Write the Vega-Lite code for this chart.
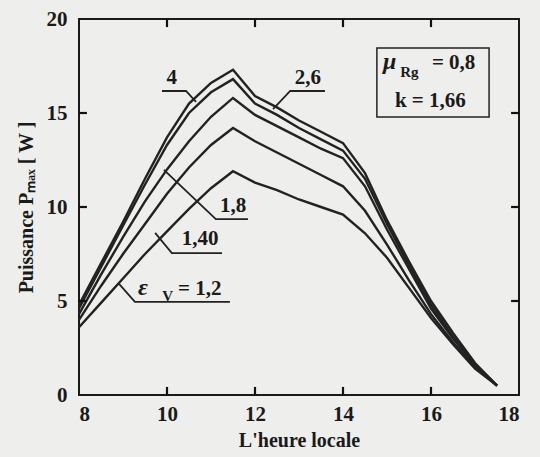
{
  "$schema": "https://vega.github.io/schema/vega-lite/v6.json",
  "width": 440,
  "height": 376,
  "autosize": {"type": "none"},
  "padding": {"left": 79, "top": 19, "right": 21, "bottom": 62},
  "background": "#eeeeec",
  "config": {
    "view": {"stroke": "#1a1a1a", "strokeWidth": 2},
    "font": "Liberation Serif",
    "axis": {"grid": false, "labelFont": "Liberation Serif", "labelFontWeight": "bold", "labelFontSize": 21, "labelColor": "#1a1a1a", "titleFont": "Liberation Serif", "titleFontWeight": "bold", "titleFontSize": 20, "titleColor": "#1a1a1a"}
  },
  "datasets": {
    "curves": [
      {"eps": "4", "h": 8, "p": 4.8}, {"eps": "4", "h": 8.5, "p": 7.0}, {"eps": "4", "h": 9, "p": 9.2}, {"eps": "4", "h": 9.5, "p": 11.5}, {"eps": "4", "h": 10, "p": 13.7}, {"eps": "4", "h": 10.5, "p": 15.5}, {"eps": "4", "h": 11, "p": 16.6}, {"eps": "4", "h": 11.5, "p": 17.3}, {"eps": "4", "h": 12, "p": 15.9}, {"eps": "4", "h": 12.5, "p": 15.3}, {"eps": "4", "h": 13, "p": 14.6}, {"eps": "4", "h": 13.5, "p": 14.0}, {"eps": "4", "h": 14, "p": 13.4}, {"eps": "4", "h": 14.5, "p": 11.8}, {"eps": "4", "h": 15, "p": 9.3}, {"eps": "4", "h": 15.5, "p": 7.1}, {"eps": "4", "h": 16, "p": 5.0}, {"eps": "4", "h": 16.5, "p": 3.3}, {"eps": "4", "h": 17, "p": 1.7}, {"eps": "4", "h": 17.5, "p": 0.5},
      {"eps": "2,6", "h": 8, "p": 4.6}, {"eps": "2,6", "h": 8.5, "p": 6.8}, {"eps": "2,6", "h": 9, "p": 9.0}, {"eps": "2,6", "h": 9.5, "p": 11.2}, {"eps": "2,6", "h": 10, "p": 13.3}, {"eps": "2,6", "h": 10.5, "p": 15.0}, {"eps": "2,6", "h": 11, "p": 16.1}, {"eps": "2,6", "h": 11.5, "p": 16.8}, {"eps": "2,6", "h": 12, "p": 15.5}, {"eps": "2,6", "h": 12.5, "p": 14.9}, {"eps": "2,6", "h": 13, "p": 14.2}, {"eps": "2,6", "h": 13.5, "p": 13.6}, {"eps": "2,6", "h": 14, "p": 13.0}, {"eps": "2,6", "h": 14.5, "p": 11.5}, {"eps": "2,6", "h": 15, "p": 9.1}, {"eps": "2,6", "h": 15.5, "p": 6.9}, {"eps": "2,6", "h": 16, "p": 4.8}, {"eps": "2,6", "h": 16.5, "p": 3.1}, {"eps": "2,6", "h": 17, "p": 1.6}, {"eps": "2,6", "h": 17.5, "p": 0.5},
      {"eps": "1,8", "h": 8, "p": 4.3}, {"eps": "1,8", "h": 8.5, "p": 6.4}, {"eps": "1,8", "h": 9, "p": 8.4}, {"eps": "1,8", "h": 9.5, "p": 10.3}, {"eps": "1,8", "h": 10, "p": 12.0}, {"eps": "1,8", "h": 10.5, "p": 13.5}, {"eps": "1,8", "h": 11, "p": 14.8}, {"eps": "1,8", "h": 11.5, "p": 15.8}, {"eps": "1,8", "h": 12, "p": 14.9}, {"eps": "1,8", "h": 12.5, "p": 14.3}, {"eps": "1,8", "h": 13, "p": 13.7}, {"eps": "1,8", "h": 13.5, "p": 13.1}, {"eps": "1,8", "h": 14, "p": 12.6}, {"eps": "1,8", "h": 14.5, "p": 11.1}, {"eps": "1,8", "h": 15, "p": 8.8}, {"eps": "1,8", "h": 15.5, "p": 6.7}, {"eps": "1,8", "h": 16, "p": 4.6}, {"eps": "1,8", "h": 16.5, "p": 3.0}, {"eps": "1,8", "h": 17, "p": 1.6}, {"eps": "1,8", "h": 17.5, "p": 0.5},
      {"eps": "1,40", "h": 8, "p": 4.0}, {"eps": "1,40", "h": 8.5, "p": 5.8}, {"eps": "1,40", "h": 9, "p": 7.5}, {"eps": "1,40", "h": 9.5, "p": 9.1}, {"eps": "1,40", "h": 10, "p": 10.7}, {"eps": "1,40", "h": 10.5, "p": 12.1}, {"eps": "1,40", "h": 11, "p": 13.3}, {"eps": "1,40", "h": 11.5, "p": 14.2}, {"eps": "1,40", "h": 12, "p": 13.5}, {"eps": "1,40", "h": 12.5, "p": 12.9}, {"eps": "1,40", "h": 13, "p": 12.3}, {"eps": "1,40", "h": 13.5, "p": 11.7}, {"eps": "1,40", "h": 14, "p": 11.1}, {"eps": "1,40", "h": 14.5, "p": 9.8}, {"eps": "1,40", "h": 15, "p": 8.0}, {"eps": "1,40", "h": 15.5, "p": 6.1}, {"eps": "1,40", "h": 16, "p": 4.3}, {"eps": "1,40", "h": 16.5, "p": 2.8}, {"eps": "1,40", "h": 17, "p": 1.5}, {"eps": "1,40", "h": 17.5, "p": 0.5},
      {"eps": "1,2", "h": 8, "p": 3.6}, {"eps": "1,2", "h": 8.5, "p": 4.9}, {"eps": "1,2", "h": 9, "p": 6.2}, {"eps": "1,2", "h": 9.5, "p": 7.5}, {"eps": "1,2", "h": 10, "p": 8.7}, {"eps": "1,2", "h": 10.5, "p": 9.9}, {"eps": "1,2", "h": 11, "p": 11.0}, {"eps": "1,2", "h": 11.5, "p": 11.9}, {"eps": "1,2", "h": 12, "p": 11.3}, {"eps": "1,2", "h": 12.5, "p": 10.9}, {"eps": "1,2", "h": 13, "p": 10.4}, {"eps": "1,2", "h": 13.5, "p": 10.0}, {"eps": "1,2", "h": 14, "p": 9.6}, {"eps": "1,2", "h": 14.5, "p": 8.6}, {"eps": "1,2", "h": 15, "p": 7.3}, {"eps": "1,2", "h": 15.5, "p": 5.7}, {"eps": "1,2", "h": 16, "p": 4.1}, {"eps": "1,2", "h": 16.5, "p": 2.7}, {"eps": "1,2", "h": 17, "p": 1.4}, {"eps": "1,2", "h": 17.5, "p": 0.5}
    ],
    "leaders": [
      {"id": "4", "o": 1, "h": 9.886, "p": 16.17}, {"id": "4", "o": 2, "h": 10.432, "p": 16.17}, {"id": "4", "o": 3, "h": 10.66, "p": 15.59},
      {"id": "2,6", "o": 1, "h": 13.59, "p": 16.17}, {"id": "2,6", "o": 2, "h": 12.8, "p": 16.17}, {"id": "2,6", "o": 3, "h": 12.41, "p": 15.2},
      {"id": "1,8", "o": 1, "h": 9.93, "p": 11.97}, {"id": "1,8", "o": 2, "h": 11.11, "p": 9.36}, {"id": "1,8", "o": 3, "h": 11.84, "p": 9.36},
      {"id": "1,40", "o": 1, "h": 9.73, "p": 8.62}, {"id": "1,40", "o": 2, "h": 10.11, "p": 7.55}, {"id": "1,40", "o": 3, "h": 11.25, "p": 7.55},
      {"id": "1,2", "o": 1, "h": 8.89, "p": 5.96}, {"id": "1,2", "o": 2, "h": 9.27, "p": 4.95}, {"id": "1,2", "o": 3, "h": 11.43, "p": 4.95}
    ],
    "ticks": [
      {"id": "b10", "h": 10, "p": 0}, {"id": "b10", "h": 10, "p": 0.43},
      {"id": "b12", "h": 12, "p": 0}, {"id": "b12", "h": 12, "p": 0.43},
      {"id": "b14", "h": 14, "p": 0}, {"id": "b14", "h": 14, "p": 0.43},
      {"id": "b16", "h": 16, "p": 0}, {"id": "b16", "h": 16, "p": 0.43},
      {"id": "t10", "h": 10, "p": 20}, {"id": "t10", "h": 10, "p": 19.57},
      {"id": "t12", "h": 12, "p": 20}, {"id": "t12", "h": 12, "p": 19.57},
      {"id": "t14", "h": 14, "p": 20}, {"id": "t14", "h": 14, "p": 19.57},
      {"id": "t16", "h": 16, "p": 20}, {"id": "t16", "h": 16, "p": 19.57},
      {"id": "l5", "h": 8, "p": 5}, {"id": "l5", "h": 8.18, "p": 5},
      {"id": "l10", "h": 8, "p": 10}, {"id": "l10", "h": 8.18, "p": 10},
      {"id": "l15", "h": 8, "p": 15}, {"id": "l15", "h": 8.18, "p": 15},
      {"id": "r5", "h": 18, "p": 5}, {"id": "r5", "h": 17.82, "p": 5},
      {"id": "r10", "h": 18, "p": 10}, {"id": "r10", "h": 17.82, "p": 10},
      {"id": "r15", "h": 18, "p": 15}, {"id": "r15", "h": 17.82, "p": 15}
    ],
    "labels": [
      {"t": "4", "h": 10.11, "p": 16.54},
      {"t": "2,6", "h": 13.2, "p": 16.54},
      {"t": "1,8", "h": 11.5, "p": 9.73},
      {"t": "1,40", "h": 10.75, "p": 7.98}
    ],
    "leftlabels": [
      {"t": "= 1,2", "h": 10.25, "p": 5.32},
      {"t": "= 0,8", "h": 16.02, "p": 17.34},
      {"t": "k = 1,66", "h": 15.18, "p": 15.32}
    ],
    "greek": [
      {"t": "ε", "h": 9.34, "p": 5.32},
      {"t": "μ", "h": 14.91, "p": 17.34}
    ],
    "subs": [
      {"t": "V", "h": 9.89, "p": 5.0},
      {"t": "Rg", "h": 15.3, "p": 16.9}
    ],
    "box": [{"h1": 14.77, "h2": 17.32, "p1": 18.46, "p2": 14.79}]
  },
  "layer": [
    {
      "data": {"name": "curves"},
      "mark": {"type": "line", "color": "#222222", "strokeWidth": 2.4, "strokeJoin": "miter"},
      "encoding": {
        "x": {"field": "h", "type": "quantitative", "scale": {"domain": [8, 18], "nice": false},
          "axis": {"orient": "bottom", "title": "L'heure locale", "values": [8, 10, 12, 14, 16, 18], "domain": false, "ticks": false, "labelPadding": 8, "titlePadding": 6}},
        "y": {"field": "p", "type": "quantitative", "scale": {"domain": [0, 20], "nice": false},
          "axis": {"orient": "left", "title": "Puissance Pₘₐₓ [ W ]", "values": [0, 5, 10, 15, 20], "domain": false, "ticks": false, "labelPadding": 12, "titlePadding": 10}},
        "detail": {"field": "eps", "type": "nominal"}
      }
    },
    {
      "data": {"name": "ticks"},
      "mark": {"type": "line", "color": "#111111", "strokeWidth": 2.2},
      "encoding": {
        "x": {"field": "h", "type": "quantitative"},
        "y": {"field": "p", "type": "quantitative"},
        "detail": {"field": "id", "type": "nominal"}
      }
    },
    {
      "data": {"name": "leaders"},
      "mark": {"type": "line", "color": "#222222", "strokeWidth": 1.8},
      "encoding": {
        "x": {"field": "h", "type": "quantitative"},
        "y": {"field": "p", "type": "quantitative"},
        "detail": {"field": "id", "type": "nominal"},
        "order": {"field": "o", "type": "quantitative"}
      }
    },
    {
      "data": {"name": "labels"},
      "mark": {"type": "text", "font": "Liberation Serif", "fontWeight": "bold", "fontSize": 21, "color": "#1a1a1a", "align": "center", "baseline": "alphabetic"},
      "encoding": {"x": {"field": "h", "type": "quantitative"}, "y": {"field": "p", "type": "quantitative"}, "text": {"field": "t"}}
    },
    {
      "data": {"name": "leftlabels"},
      "mark": {"type": "text", "font": "Liberation Serif", "fontWeight": "bold", "fontSize": 21, "color": "#1a1a1a", "align": "left", "baseline": "alphabetic"},
      "encoding": {"x": {"field": "h", "type": "quantitative"}, "y": {"field": "p", "type": "quantitative"}, "text": {"field": "t"}}
    },
    {
      "data": {"name": "greek"},
      "mark": {"type": "text", "font": "Liberation Serif", "fontStyle": "italic", "fontWeight": "bold", "fontSize": 24, "color": "#1a1a1a", "align": "left", "baseline": "alphabetic"},
      "encoding": {"x": {"field": "h", "type": "quantitative"}, "y": {"field": "p", "type": "quantitative"}, "text": {"field": "t"}}
    },
    {
      "data": {"name": "subs"},
      "mark": {"type": "text", "font": "Liberation Serif", "fontWeight": "bold", "fontSize": 15, "color": "#1a1a1a", "align": "left", "baseline": "alphabetic"},
      "encoding": {"x": {"field": "h", "type": "quantitative"}, "y": {"field": "p", "type": "quantitative"}, "text": {"field": "t"}}
    },
    {
      "data": {"name": "box"},
      "mark": {"type": "rect", "fill": null, "fillOpacity": 0, "stroke": "#222222", "strokeWidth": 1.5},
      "encoding": {
        "x": {"field": "h1", "type": "quantitative"}, "x2": {"field": "h2"},
        "y": {"field": "p1", "type": "quantitative"}, "y2": {"field": "p2"}
      }
    }
  ]
}
